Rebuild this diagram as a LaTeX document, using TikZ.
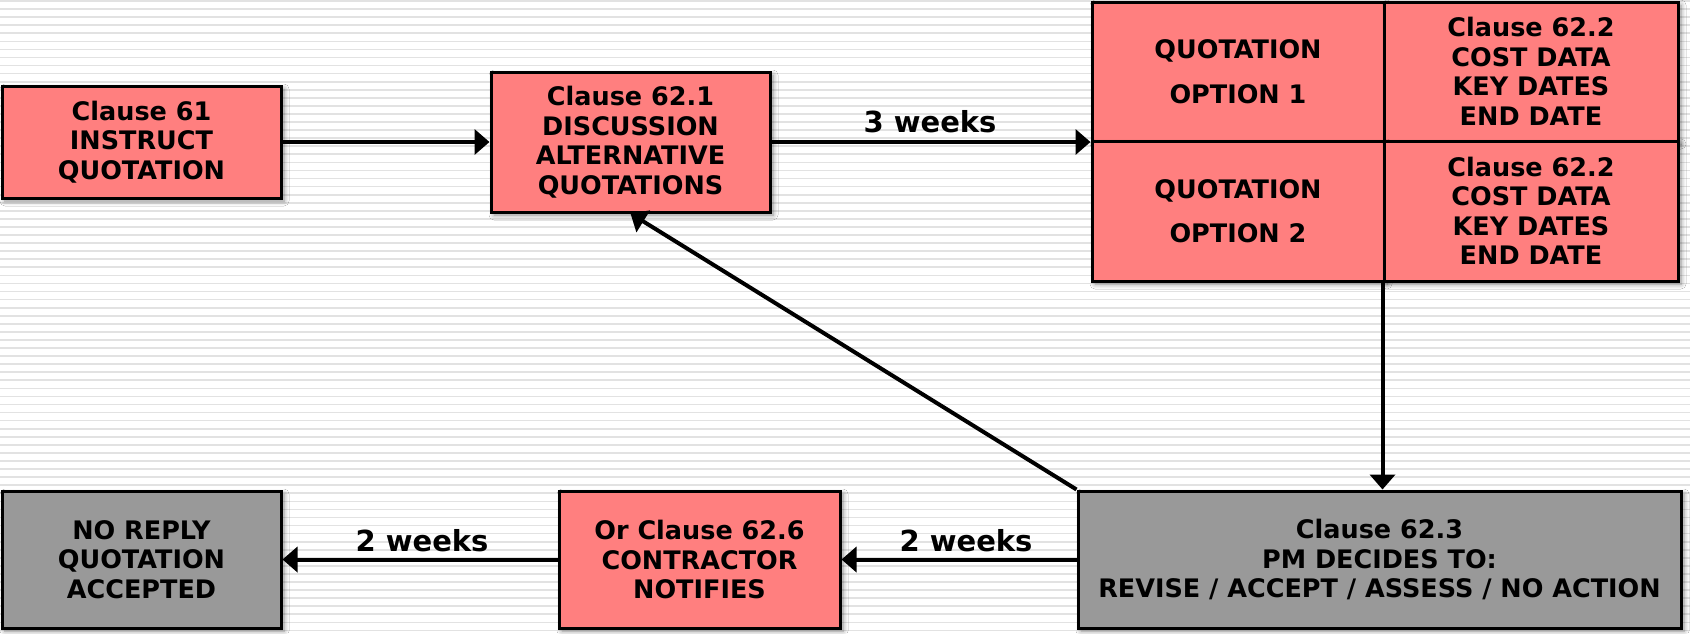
\documentclass[tikz,border=0pt]{standalone}
\usepackage{fontspec}
\setmainfont{DejaVu Sans}
\usetikzlibrary{arrows.meta,shadows.blur}
\definecolor{boxpink}{HTML}{FF7F7F}
\definecolor{boxgrey}{HTML}{999999}
\definecolor{stripe}{HTML}{E2E2E2}

\begin{document}
\begin{tikzpicture}[x=1pt,y=-1pt,
  box/.style={draw=black, line width=3pt, fill=boxpink, inner sep=0pt,
    align=center, font=\bfseries\fontsize{25.5}{29.5}\selectfont,
    blur shadow={shadow xshift=3pt, shadow yshift=-3pt, shadow blur radius=5pt,
      shadow blur steps=6, shadow opacity=45}},
  greybox/.style={box, fill=boxgrey},
  flow/.style={line width=4pt, -{Triangle[length=15pt,width=25pt]}},
  lbl/.style={font=\bfseries\fontsize{29}{34}\selectfont, inner sep=0pt}]

% page and striped background
\useasboundingbox (0,0) rectangle (1690,633);
\fill[white] (0,0) rectangle (1690,633);
\foreach \yy in {1,9.07,...,633}
  \draw[stripe, line width=1.7pt] (0,\yy) -- (1690,\yy);

% top row
\node[box, minimum width=279pt, minimum height=112pt] (b1) at (141.5,142)
  {Clause 61\\INSTRUCT\\QUOTATION};
\node[box, minimum width=279pt, minimum height=140pt] (b2) at (630.5,142)
  {Clause 62.1\\DISCUSSION\\ALTERNATIVE\\QUOTATIONS};

% quotation grid
\node[box, minimum width=292pt, minimum height=139pt] (q1a) at (1238,71.5)
  {QUOTATION\\[15pt]OPTION 1};
\node[box, minimum width=294pt, minimum height=139pt] (q1b) at (1531,71.5)
  {Clause 62.2\\COST DATA\\KEY DATES\\END DATE};
\node[box, minimum width=292pt, minimum height=140pt] (q2a) at (1238,211)
  {QUOTATION\\[15pt]OPTION 2};
\node[box, minimum width=294pt, minimum height=140pt] (q2b) at (1531,211)
  {Clause 62.2\\COST DATA\\KEY DATES\\END DATE};

% bottom row
\node[greybox, minimum width=603pt, minimum height=137pt] (pm) at (1379.5,559.5)
  {Clause 62.3\\PM DECIDES TO:\\REVISE / ACCEPT / ASSESS / NO ACTION};
\node[box, minimum width=281pt, minimum height=137pt] (n626) at (699.5,559.5)
  {Or Clause 62.6\\CONTRACTOR\\NOTIFIES};
\node[greybox, minimum width=279pt, minimum height=137pt] (nr) at (141.5,559.5)
  {NO REPLY\\QUOTATION\\ACCEPTED};

% connectors
\draw[flow] (b1.east) -- (b2.west);
\draw[flow] (b2.east) -- (b2.east -| q1a.west);
\draw[flow] (q2b.south west) -- (q2b.south west |- pm.north);
\draw[flow] (pm.north west) -- (b2.south);
\draw[flow] (pm.west) -- (n626.east);
\draw[flow] (n626.west) -- (nr.east);

% durations
\node[lbl] (w3) at (930,122) {3 weeks};
\node[lbl] (w2a) at (966,541) {2 weeks};
\node[lbl] (w2b) at (422,541) {2 weeks};
\end{tikzpicture}
\end{document}
